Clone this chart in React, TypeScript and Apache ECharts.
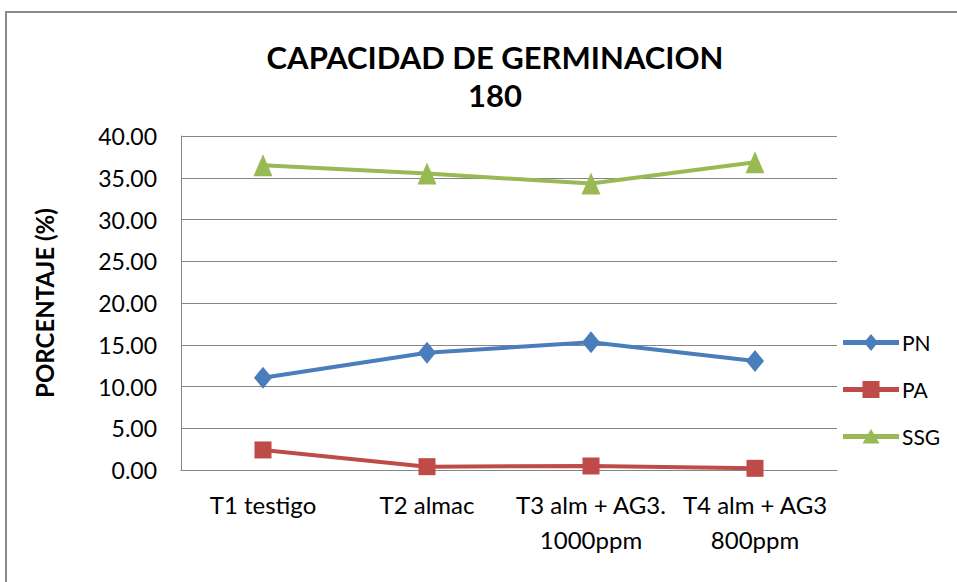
import React, { useEffect, useRef } from "react";
import * as echarts from "echarts";

const categories = ["T1 testigo", "T2 almac", "T3 alm + AG3.\n1000ppm", "T4 alm + AG3\n800ppm"];
const pnValues = [11.05, 14.05, 15.3, 13.05];
const paValues = [2.4, 0.4, 0.48, 0.2];
const ssgValues = [36.5, 35.5, 34.3, 36.85];
const seriesNames = ["PN", "PA", "SSG"];
const titleLines = ["CAPACIDAD DE GERMINACION", "180"];
const yAxisName = "PORCENTAJE (%)";

const FONT = "Lato, 'Noto Sans', sans-serif";

// legend icons: thick line + marker, inside a 56x20 box
const BOX = "M0,0 L0.01,0 M0,20 L0.01,20 ";
const LINE = "M0,7.6 L56,7.6 L56,12.4 L0,12.4 Z ";
const legendIcons = [
  "path://" + BOX + LINE + "M28,1.5 L35,10 L28,18.5 L21,10 Z",
  "path://" + BOX + LINE + "M19.5,1.5 L36.5,1.5 L36.5,18.5 L19.5,18.5 Z",
  "path://" + BOX + LINE + "M28,2.5 L36.5,17 L19.5,17 Z",
];

export default function App() {
  const ref = useRef<HTMLDivElement>(null);
  useEffect(() => {
    if (!ref.current) return;
    const chart = echarts.init(ref.current, undefined, { renderer: "svg" });
    chart.setOption({
      animation: false,
      backgroundColor: "#ffffff",
      title: {
        text: titleLines.join("\n"),
        left: 490,
        textAlign: "center",
        top: 33,
        textStyle: {
          fontFamily: FONT,
          fontSize: 31,
          fontWeight: "bold",
          color: "#000",
          lineHeight: 38,
        },
      },
      graphic: [
        {
          type: "rect",
          shape: { x: 6, y: 12, width: 1000, height: 620 },
          style: { fill: "none", stroke: "#8a8a8a", lineWidth: 2 },
          silent: true,
        },
      ],
      legend: {
        orient: "vertical",
        left: 838,
        top: 327,
        itemWidth: 56,
        itemHeight: 20,
        itemGap: 26,
        textStyle: { fontFamily: FONT, fontSize: 21, lineHeight: 20, color: "#000", padding: [0, 0, 0, -2] },
        data: seriesNames.map((n, i) => ({ name: n, icon: legendIcons[i] })),
      },
      grid: { left: 181, right: 120, top: 136, bottom: 112, containLabel: false },
      xAxis: {
        type: "category",
        data: categories,
        boundaryGap: true,
        axisLine: { lineStyle: { color: "#868686", width: 1 } },
        axisTick: { show: false },
        axisLabel: {
          fontFamily: FONT,
          fontSize: 24,
          color: "#000",
          margin: 17,
          lineHeight: 35,
          interval: 0,
        },
      },
      yAxis: {
        type: "value",
        min: 0,
        max: 40,
        interval: 5,
        name: yAxisName,
        nameLocation: "middle",
        nameGap: 125,
        nameRotate: 90,
        nameTextStyle: { fontFamily: FONT, fontSize: 24, fontWeight: "bold", color: "#000" },
        axisLine: { show: true, lineStyle: { color: "#868686", width: 1 } },
        axisTick: { show: false },
        splitLine: { lineStyle: { color: "#868686", width: 1 } },
        axisLabel: {
          fontFamily: FONT,
          fontSize: 23,
          color: "#000",
          margin: 24,
          formatter: (v: number) => v.toFixed(2),
        },
      },
      series: [
        {
          name: seriesNames[0],
          type: "line",
          data: pnValues,
          symbol: "diamond",
          symbolSize: [18, 22],
          lineStyle: { color: "#4a7ebb", width: 4 },
          itemStyle: { color: "#4a7ebb" },
        },
        {
          name: seriesNames[1],
          type: "line",
          data: paValues,
          symbol: "rect",
          symbolSize: 17,
          lineStyle: { color: "#be4b48", width: 4 },
          itemStyle: { color: "#be4b48" },
        },
        {
          name: seriesNames[2],
          type: "line",
          data: ssgValues,
          symbol: "triangle",
          symbolSize: [19, 22],
          lineStyle: { color: "#98b954", width: 4 },
          itemStyle: { color: "#98b954" },
        },
      ],
    });
    return () => chart.dispose();
  }, []);
  return (
    <div
      ref={ref}
      style={{ position: "fixed", left: 0, top: 0, width: 957, height: 582 }}
    />
  );
}
